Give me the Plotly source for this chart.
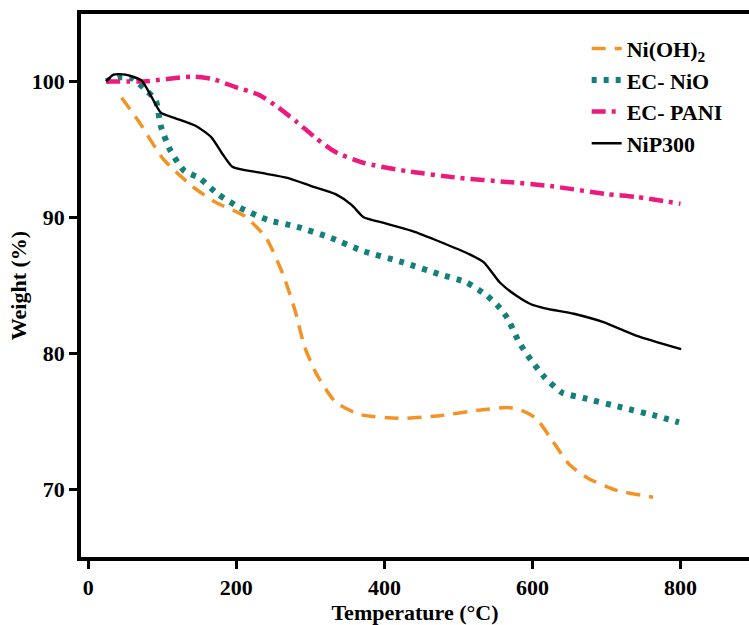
import plotly.graph_objects as go

# Ni(OH)2
nioh_x = [45, 70, 101, 140, 172, 211, 240, 263, 279, 292, 308, 334, 366, 424, 475, 527, 566, 585, 605, 624, 650, 675, 714, 763]
nioh_y = [98.8, 96.9, 94.3, 92.3, 91.1, 90.1, 88.5, 85.8, 83.2, 80.5, 78.5, 76.4, 75.5, 75.2, 75.4, 75.8, 76.0, 75.8, 75.2, 73.8, 71.8, 70.8, 69.9, 69.4]

# EC- NiO
nio_x = [24, 40, 60, 75, 91, 98, 111, 130, 150, 175, 205, 243, 282, 327, 372, 424, 475, 511, 537, 553, 566, 582, 598, 617, 640, 669, 721, 766, 798]
nio_y = [100.0, 100.3, 100.2, 99.5, 98.6, 96.7, 94.9, 93.4, 92.9, 91.7, 90.7, 89.8, 89.3, 88.5, 87.5, 86.7, 85.8, 85.2, 84.3, 83.5, 82.6, 80.8, 79.5, 78.2, 77.1, 76.7, 76.0, 75.4, 74.9]

# EC- PANI
pani_x = [24, 75, 140, 166, 198, 231, 256, 282, 308, 334, 372, 430, 501, 566, 624, 701, 740, 800]
pani_y = [100.0, 100.0, 100.35, 100.2, 99.6, 99.0, 98.1, 97.0, 95.8, 94.8, 94.0, 93.4, 92.9, 92.6, 92.3, 91.7, 91.5, 91.0]

# NiP300
nip_x = [24, 34, 50, 72, 85, 98, 117, 146, 166, 182, 195, 230, 269, 301, 334, 356, 372, 398, 437, 475, 514, 534, 556, 579, 598, 617, 656, 695, 740, 801]
nip_y = [100.0, 100.5, 100.5, 100.06, 98.9, 97.7, 97.3, 96.7, 95.9, 94.6, 93.7, 93.3, 92.9, 92.3, 91.7, 90.9, 90.0, 89.6, 89.0, 88.2, 87.3, 86.7, 85.2, 84.2, 83.6, 83.3, 82.9, 82.3, 81.3, 80.3]

x_ticks = [0, 200, 400, 600, 800]
y_ticks = [70, 80, 90, 100]

FONT = "Liberation Serif"

fig = go.Figure()
fig.add_trace(go.Scatter(x=nioh_x, y=nioh_y, mode="lines", name="Ni(OH)<sub>2</sub>",
                         line=dict(color="#F39325", width=3.5, dash="14px,9px", shape="spline", smoothing=0.6)))
fig.add_trace(go.Scatter(x=nio_x, y=nio_y, mode="lines", name="EC- NiO",
                         line=dict(color="#13807A", width=6, dash="5px,7px", shape="spline", smoothing=0.6)))
fig.add_trace(go.Scatter(x=pani_x, y=pani_y, mode="lines", name="EC- PANI",
                         line=dict(color="#EC1A7D", width=4.5, dash="14px,6px,4px,6px", shape="spline", smoothing=0.6)))
fig.add_trace(go.Scatter(x=nip_x, y=nip_y, mode="lines", name="NiP300",
                         line=dict(color="#000000", width=2.4, shape="spline", smoothing=0.6)))

fig.update_layout(
    width=749, height=625,
    margin=dict(l=81, r=0, t=14, b=68),
    plot_bgcolor="white", paper_bgcolor="white",
    font=dict(family=FONT, size=22, color="black"),
    showlegend=True,
    legend=dict(x=0.757, y=0.975, xanchor="left", yanchor="top",
                bgcolor="rgba(0,0,0,0)", borderwidth=0,
                font=dict(family=FONT, size=22, color="black", weight="bold"),
                tracegroupgap=0),
    xaxis=dict(range=[-9.9, 892.6], tickvals=x_ticks, ticktext=[str(v) for v in x_ticks],
               showgrid=False, zeroline=False, showline=True, linecolor="black", linewidth=3.5,
               mirror=True, ticks="outside", ticklen=8, tickwidth=3, tickcolor="black",
               tickfont=dict(family=FONT, size=22, color="black", weight="bold"),
               title=dict(text="Temperature (°C)", standoff=8,
                          font=dict(family=FONT, size=22, color="black", weight="bold"))),
    yaxis=dict(range=[65.0, 104.96], tickvals=y_ticks, ticktext=[str(v) for v in y_ticks],
               showgrid=False, zeroline=False, showline=True, linecolor="black", linewidth=3.5,
               mirror=False, ticks="outside", ticklen=8, tickwidth=3, tickcolor="black",
               tickfont=dict(family=FONT, size=22, color="black", weight="bold"),
               title=dict(text="Weight (%)", standoff=0,
                          font=dict(family=FONT, size=22, color="black", weight="bold"))),
)

fig.write_html("out.html")
